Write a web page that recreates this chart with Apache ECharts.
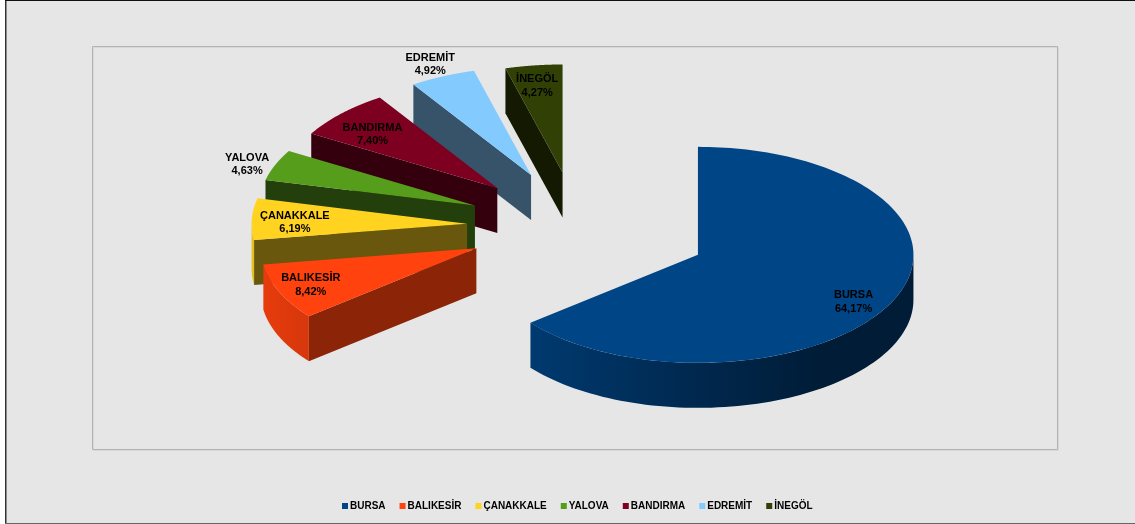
<!DOCTYPE html>
<html>
<head>
<meta charset="utf-8">
<style>html,body{margin:0;padding:0;background:#fff}#main{width:1135px;height:524px}</style>
<script src="https://cdn.jsdelivr.net/npm/echarts@6/dist/echarts.min.js"></script>
</head>
<body>
<div id="main"></div>
<script>
// Data
const categories = ['BURSA','BALIKESİR','ÇANAKKALE','YALOVA','BANDIRMA','EDREMİT','İNEGÖL'];
const shares = [64.17,8.42,6.19,4.63,7.40,4.92,4.27];
const shareLabels = ['64,17%','8,42%','6,19%','4,63%','7,40%','4,92%','4,27%'];
const colors = ['#004586','#ff420e','#ffd320','#579d1c','#7e0021','#83caff','#314004'];

// Layout of the projected pie
const pieCentre = [577,226], radiusX = 215.5, radiusY = 108, depth = 45;
const explode = [134,110,110,110,110,112,108];
const labelFactorX = [0.80,0.84,0.80,1.14,0.80,1.14,0.88];
const labelFactorY = [1.01,0.84,0.21,1.01,0.72,1.12,0.81];
const wallShade = [0.41,0.55,0.41,0.40,0.41,0.41,0.41];

const total = shares.reduce((a,b)=>a+b,0);
const starts = []; shares.reduce((acc,v,i)=>{starts[i]=acc;return acc+v;},0);
const toAngle = v => v/total*2*Math.PI;

function rgb(hex){return [1,3,5].map(i=>parseInt(hex.substr(i,2),16));}
function shade(hex,f){return 'rgb('+rgb(hex).map(c=>Math.round(c*f)).join(',')+')';}
function rimFactor(t){const s=Math.sin(t);return s<0?0.58-0.33*s:Math.max(0.41,0.58-0.3*s);}

function renderSlice(params,api){
  const i=params.seriesIndex, value=api.value(0);
  const a0=toAngle(starts[i]), a1=a0+toAngle(value), mid=(a0+a1)/2;
  const ax=pieCentre[0]+explode[i]*Math.sin(mid);
  const ay=pieCentre[1]-explode[i]*Math.cos(mid)*0.5;
  const pt=t=>[ax+radiusX*Math.sin(t),ay-radiusY*Math.cos(t)];
  const N=80, children=[];
  // radial wall
  const p0=pt(a0);
  children.push({type:'polygon',shape:{points:[[ax,ay],p0,[p0[0],p0[1]+depth],[ax,ay+depth]]},
    style:{fill:shade(colors[i],wallShade[i])}});
  // outer rim (front half only)
  const r0=Math.max(a0,Math.PI/2), r1=Math.min(a1,1.5*Math.PI);
  if(r1>r0){
    const top=[],bot=[],ang=[];
    for(let k=0;k<=N;k++){const t=r0+(r1-r0)*k/N;const p=pt(t);top.push(p);bot.unshift([p[0],p[1]+depth]);ang.push(t);}
    const xs=top.map(p=>p[0]),minX=Math.min(...xs),maxX=Math.max(...xs);
    const stops=ang.map((t,k)=>({offset:(xs[k]-minX)/(maxX-minX),color:shade(colors[i],rimFactor(t))})).reverse();
    children.push({type:'polygon',shape:{points:top.concat(bot)},
      style:{fill:{type:'linear',x:0,y:0,x2:1,y2:0,colorStops:stops}}});
  }
  // top face
  const face=[[ax,ay]];
  for(let k=0;k<=N*2;k++)face.push(pt(a0+(a1-a0)*k/(N*2)));
  children.push({type:'polygon',shape:{points:face},style:{fill:colors[i]}});
  // label
  children.push({type:'text',z2:50,style:{
    x:ax+labelFactorX[i]*radiusX*Math.sin(mid),
    y:ay-labelFactorY[i]*radiusY*Math.cos(mid),
    text:categories[i]+'\n'+shareLabels[i],
    font:'bold 11px "Liberation Sans", Arial, sans-serif',lineHeight:13.5,
    fill:'#000',align:'center',verticalAlign:'middle'}});
  return {type:'group',children};
}

const series = categories.map((name,i)=>({
  type:'custom',name,coordinateSystem:'none',z:2+(categories.length-i+ (i===0?-categories.length:0)),
  itemStyle:{color:colors[i]},
  data:[{value:[shares[i]],name}],
  renderItem:renderSlice,animation:false,silent:true
}));

const chart = echarts.init(document.getElementById('main'),null,{renderer:'canvas'});
chart.setOption({
  animation:false,
  backgroundColor:'#fff',
  graphic:[
    {type:'rect',z:-10,shape:{x:6,y:0,width:1129,height:524},style:{fill:'#e6e6e6'}},
    {type:'rect',z:-9,shape:{x:5,y:0,width:1.5,height:524},style:{fill:'#333'}},
    {type:'rect',z:-9,shape:{x:5,y:0,width:1130,height:1},style:{fill:'#111'}},
    {type:'rect',z:-9,shape:{x:5,y:523,width:1130,height:1},style:{fill:'#666'}},
    {type:'rect',z:-8,shape:{x:93.5,y:47.5,width:965,height:403},style:{fill:'none',stroke:'#d8d8d8',lineWidth:1}},
    {type:'rect',z:-8,shape:{x:92.5,y:46.5,width:965,height:403},style:{fill:'none',stroke:'#b3b3b3',lineWidth:1}}
  ],
  legend:{
    data:categories,left:342,top:501,padding:0,orient:'horizontal',
    icon:'rect',itemWidth:6,itemHeight:6,itemGap:14,selectedMode:false,
    textStyle:{fontWeight:'bold',fontSize:10,fontFamily:'"Liberation Sans", Arial, sans-serif',color:'#000',padding:[0,0,0,-3]}
  },
  series
});
</script>
</body>
</html>
